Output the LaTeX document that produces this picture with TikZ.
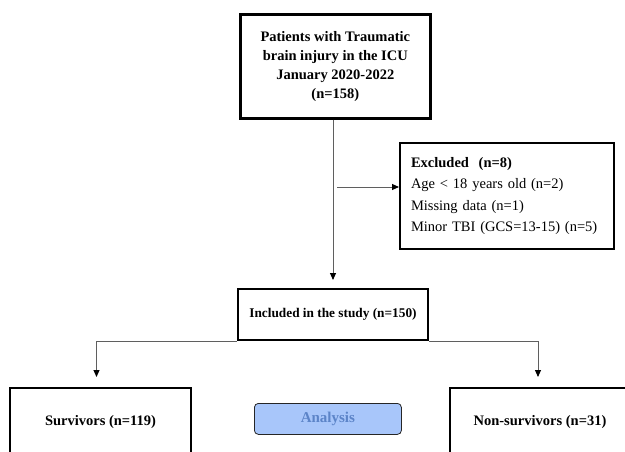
\documentclass[tikz,border=0pt]{standalone}
\usepackage{fontspec}
\setmainfont{Liberation Serif}
\usetikzlibrary{arrows.meta}
\definecolor{linegray}{RGB}{95,95,95}
\definecolor{analysisfill}{RGB}{168,198,250}
\definecolor{analysistext}{RGB}{92,132,200}
\begin{document}
\begin{tikzpicture}[x=1pt,y=-1pt]
      % Define styles for nodes
      \tikzstyle{flowbox} = [anchor=north west, draw, rectangle, line width=2pt,
      fill=white, inner sep=0pt, align=center,
      font=\fontsize{14.5}{19}\selectfont\bfseries]
      \tikzstyle{listbox} = [anchor=north west, draw, rectangle, line width=2pt,
      fill=white, inner xsep=11pt, inner ysep=0pt, text width=192pt, align=left,
      minimum height=106pt, font=\fontsize{14.5}{21.3}\selectfont]
      \tikzstyle{analysisbox} = [anchor=north west, draw=black!85, rounded corners=4pt,
      line width=0.8pt, fill=analysisfill, text=analysistext, minimum width=147pt,
      minimum height=31pt, font=\fontsize{15}{18}\selectfont\bfseries]
      \tikzstyle{arr} = [draw=linegray, line width=0.9pt,
      -{Triangle[length=7pt,width=6pt,color=black]}]

      \useasboundingbox (0,0) rectangle (625,452);

      % Boxes of the flow
      \node[flowbox, line width=2.6pt, minimum width=190pt, minimum height=104pt]
        (patients) at (239,13) {Patients with Traumatic\\brain injury in the ICU\\January 2020-2022\\(n=158)};
      \node[listbox] (excluded) at (399,142)
        {\textbf{Excluded\ \ (n=8)}\\Age < 18 years old (n=2)\\Missing data (n=1)\\Minor TBI (GCS=13-15) (n=5)};
      \node[flowbox, minimum width=190pt, minimum height=51pt,
        font=\fontsize{13.3}{16}\selectfont\bfseries]
        (included) at (237,288) {Included in the study (n=150)};
      \node[flowbox, minimum width=181pt, minimum height=68pt]
        (survivors) at (9,387) {Survivors (n=119)};
      \node[flowbox, minimum width=180pt, minimum height=68pt]
        (nonsurvivors) at (449,387) {Non-survivors (n=31)};
      \node[analysisbox] (analysis) at (254,403) {Analysis};

      % Connections
      \coordinate (exclsplit) at (337,187);
      \draw[arr, shorten >=8pt] (included.north |- patients.south) -- (included.north);
      \draw[arr] (exclsplit) -- (exclsplit -| excluded.west);
      \draw[arr, shorten >=10pt] (included.south west) -| ([xshift=-4pt]survivors.north);
      \draw[arr, shorten >=10pt] (included.south east) -| ([xshift=-2pt]nonsurvivors.north);
    \end{tikzpicture}
\end{document}
